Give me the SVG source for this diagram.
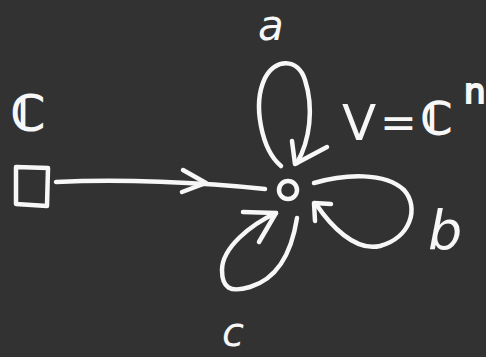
<svg xmlns="http://www.w3.org/2000/svg" width="486" height="357" viewBox="0 0 486 357">
<style>
.s{fill:none;stroke:#f7f7f7;stroke-width:4.5;stroke-linecap:round;stroke-linejoin:round}
.t{fill:#f7f7f7;font-family:"DejaVu Sans",sans-serif;font-style:oblique}
.u{fill:#f7f7f7;font-family:"DejaVu Sans",sans-serif}
.c{fill:#f7f7f7;stroke:#f7f7f7;stroke-width:2;font-family:"DejaVu Sans",sans-serif}
</style>
<rect width="486" height="357" fill="#323232"/>
<g id="source">
<path class="s" d="M16,167 L48,168 L47,206 L16,204 Z"/>
<text class="c" x="11" y="130" font-size="48">ℂ</text>
</g>
<g id="vertex">
<circle class="s" cx="288" cy="190" r="9"/>
<text class="u" x="342" y="140" font-size="50">V</text>
<text class="u" x="380" y="138" font-size="44">=</text>
<text class="c" x="421" y="134" font-size="44">ℂ</text>
<text class="c" x="464" y="103" font-size="34">n</text>
</g>
<g id="labels">
<text class="t" x="258" y="40" font-size="42">a</text>
<text class="t" x="428" y="249" font-size="54">b</text>
<text class="t" x="222" y="346" font-size="40">c</text>
</g>
<g id="connectors">
<path class="s" d="M56,182 C120,179 200,182 265,189"/>
<path class="s" d="M183,170 L206,183 L182,192"/>
<path class="s" d="M281,166 C262,150 252,105 265,78 C275,58 298,58 305,80 C314,108 310,140 297,163"/>
<path class="s" d="M292,141 L295,164 L327,147"/>
<path class="s" d="M314,183 C345,174 385,172 404,190 C420,208 410,238 380,246 C355,252 330,225 316,204"/>
<path class="s" d="M315,221 L314,203 L331,204"/>
<path class="s" d="M297,218 C292,250 280,278 250,287 C230,293 222,288 222,270 C222,248 250,225 276,213"/>
<path class="s" d="M243,212 L276,213 L259,242"/>
</g>
</svg>
